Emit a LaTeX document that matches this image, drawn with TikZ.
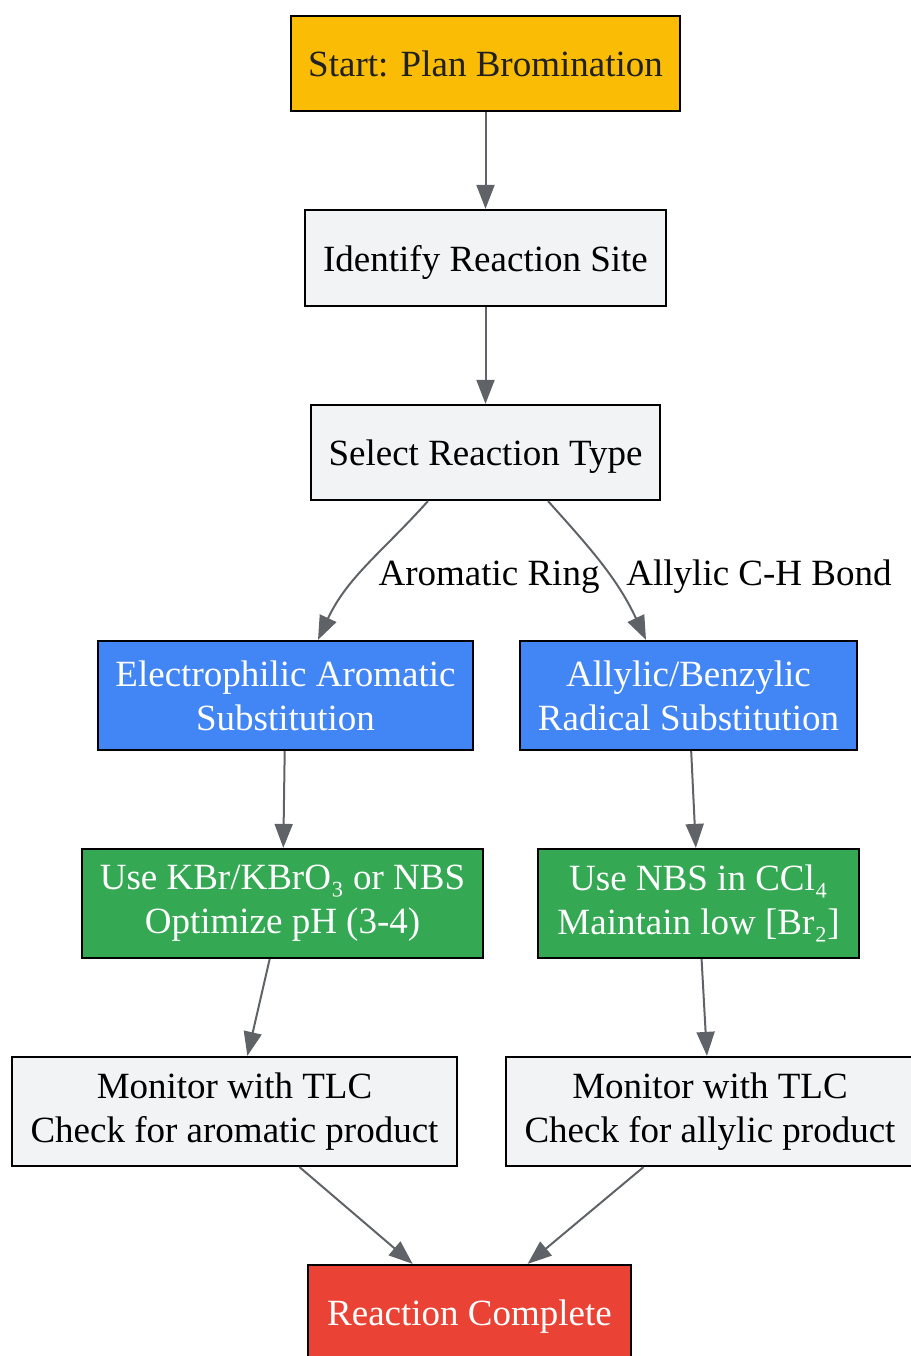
\documentclass[tikz,border=0pt]{standalone}
\usepackage{fontspec}
\setmainfont{Liberation Serif}
\usetikzlibrary{arrows.meta}
\definecolor{startyellow}{HTML}{FBBC05}
\definecolor{stepgray}{HTML}{F1F3F4}
\definecolor{pathblue}{HTML}{4285F4}
\definecolor{condgreen}{HTML}{34A853}
\definecolor{endred}{HTML}{EA4335}
\definecolor{edgegray}{HTML}{5F6368}
\definecolor{darktext}{HTML}{202124}
\begin{document}
\begin{tikzpicture}[x=1pt, y=1pt, >={Triangle[length=24pt,width=18pt]},
    font=\fontsize{37}{44}\selectfont,
    box/.style={draw=black, line width=2.2pt, align=center, inner sep=0pt},
    oneline/.style={text depth=0pt},
    flow/.style={->, draw=edgegray, line width=2pt}]
    \useasboundingbox (0,0) rectangle (910,1356);
    % boxes
    \node[box, oneline, fill=startyellow, text=darktext, minimum width=389pt, minimum height=95pt] (start) at (485.5,1292.5) {Start: Plan Bromination};
    \node[box, oneline, fill=stepgray, minimum width=361pt, minimum height=96pt] (site) at (485.5,1098) {Identify Reaction Site};
    \node[box, oneline, fill=stepgray, minimum width=349pt, minimum height=95pt] (type) at (485.5,903.5) {Select Reaction Type};
    \node[box, fill=pathblue, text=white, minimum width=375pt, minimum height=109pt] (eas) at (285.5,660.5) {Electrophilic Aromatic\\Substitution};
    \node[box, fill=pathblue, text=white, minimum width=337pt, minimum height=109pt] (radical) at (688.5,660.5) {Allylic/Benzylic\\Radical Substitution};
    \node[box, fill=condgreen, text=white, minimum width=401pt, minimum height=109pt] (kbr) at (282.5,452.5) {Use KBr/KBrO₃ or NBS\\Optimize pH (3-4)};
    \node[box, fill=condgreen, text=white, minimum width=321pt, minimum height=109pt] (nbs) at (698.5,452.5) {Use NBS in CCl₄\\Maintain low [Br₂]};
    \node[box, fill=stepgray, minimum width=445pt, minimum height=109pt] (tlcarom) at (234.5,244.5) {Monitor with TLC\\Check for aromatic product};
    \node[box, fill=stepgray, minimum width=408pt, minimum height=109pt] (tlcallyl) at (710,244.5) {Monitor with TLC\\Check for allylic product};
    \node[box, oneline, fill=endred, text=white, minimum width=323pt, minimum height=95pt] (done) at (469.5,43.5) {Reaction Complete};
    % edge labels
    \node[oneline] (lblarom) at (489,783) {Aromatic Ring};
    \node[oneline] (lblallyl) at (759,783) {Allylic C-H Bond};
    % connectors
    \draw[flow] (start) -- (site);
    \draw[flow] (site) -- (type);
    \draw[flow] ([xshift=-57.5pt]type.south) to[out=-132, in=65] ([xshift=32.5pt]eas.north);
    \draw[flow] ([xshift=62.5pt]type.south) to[out=-48, in=115] ([xshift=-42.5pt]radical.north);
    \draw[flow] (eas) -- (kbr);
    \draw[flow] (radical) -- (nbs);
    \draw[flow] (kbr) -- (tlcarom);
    \draw[flow] (nbs) -- (tlcallyl);
    \draw[flow] (tlcarom) -- (done);
    \draw[flow] (tlcallyl) -- (done);
\end{tikzpicture}
\end{document}
